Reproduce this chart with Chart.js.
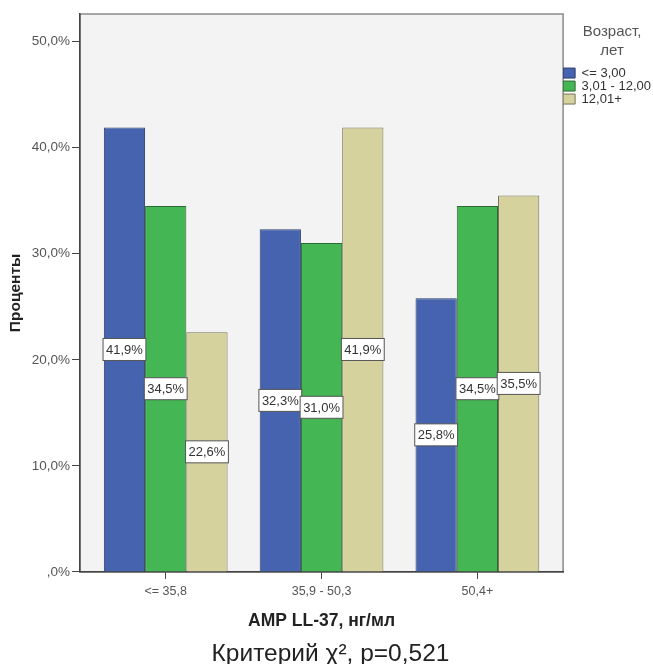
<!DOCTYPE html>
<html lang="ru">
<head>
  <meta charset="UTF-8">
  <title>AMP LL-37</title>
  <script src="https://cdn.jsdelivr.net/npm/chart.js"></script>
  <style>
    html, body { margin: 0; padding: 0; background: #fff; }
    #wrap { width: 653px; height: 664px; }
  </style>
</head>
<body>
  <div id="wrap"><canvas id="grafico"></canvas></div>

  <script>
    // Datos
    const categorias = ['<= 35,8', '35,9 - 50,3', '50,4+'];
    const edadJoven = [41.9, 32.3, 25.8];    // <= 3,00
    const edadMedia = [34.5, 31.0, 34.5];    // 3,01 - 12,00
    const edadMayor = [22.6, 41.9, 35.5];    // 12,01+
    const seriesNombres = ['<= 3,00', '3,01 - 12,00', '12,01+'];
    const ticksY = [0, 10, 20, 30, 40, 50];

    const fuente = "'Liberation Sans', Arial, sans-serif";

    // cada categoria va en x = 0, 1, 2
    const puntos = arr => arr.map((v, i) => ({ x: i, y: v }));

    // fondo gris y marco del area del grafico
    const fondoPlugin = {
      id: 'fondo',
      beforeDraw(chart) {
        const { ctx, chartArea: a } = chart;
        ctx.save();
        ctx.fillStyle = '#f3f3f3';
        ctx.fillRect(a.left, a.top, a.right - a.left, a.bottom - a.top);
        ctx.strokeStyle = '#8a8a8a';
        ctx.lineWidth = 1.5;
        ctx.strokeRect(a.left, a.top, a.right - a.left, a.bottom - a.top);
        ctx.restore();
      }
    };

    // etiquetas blancas en la mitad de cada barra
    const etiquetasPlugin = {
      id: 'etiquetas',
      afterDatasetsDraw(chart) {
        const { ctx } = chart;
        ctx.save();
        ctx.font = '13px ' + fuente;
        ctx.textAlign = 'center';
        ctx.textBaseline = 'middle';
        chart.data.datasets.forEach((ds, i) => {
          chart.getDatasetMeta(i).data.forEach((bar, j) => {
            const txt = ds.data[j].y.toFixed(1).replace('.', ',') + '%';
            const w = ctx.measureText(txt).width + 6;
            const h = 22;
            const y = (bar.y + bar.base) / 2;
            ctx.fillStyle = '#ffffff';
            ctx.fillRect(bar.x - w / 2, y - h / 2, w, h);
            ctx.strokeStyle = '#555';
            ctx.lineWidth = 1;
            ctx.strokeRect(bar.x - w / 2, y - h / 2, w, h);
            ctx.fillStyle = '#333';
            ctx.fillText(txt, bar.x, y + 1);
          });
        });
        ctx.restore();
      }
    };

    const lienzo = document.getElementById('grafico');
    new Chart(lienzo, {
      type: 'bar',
      data: {
        datasets: [
          { label: seriesNombres[0], data: puntos(edadJoven), backgroundColor: '#4563ae', borderColor: '#2c3c6a', borderWidth: 1 },
          { label: seriesNombres[1], data: puntos(edadMedia), backgroundColor: '#44b653', borderColor: '#2a6a33', borderWidth: 1 },
          { label: seriesNombres[2], data: puntos(edadMayor), backgroundColor: '#d6d29e', borderColor: '#77745a', borderWidth: 1 }
        ]
      },
      options: {
        responsive: true,
        maintainAspectRatio: false,
        animation: false,
        categoryPercentage: 0.794,
        barPercentage: 1,
        layout: { padding: { top: 14, right: -8, left: 0, bottom: 0 } },
        scales: {
          x: {
            type: 'linear',
            min: -0.55,
            max: 2.55,
            offset: false,
            afterBuildTicks(axis) {
              axis.ticks = categorias.map((c, i) => ({ value: i }));
            },
            grid: { drawOnChartArea: false, offset: false, tickLength: 7, color: '#444' },
            border: { color: '#444', width: 1.5 },
            ticks: {
              color: '#555',
              font: { family: fuente, size: 12.5 },
              padding: 5.5,
              maxRotation: 0,
              callback: v => categorias[v]
            },
            title: {
              display: true,
              text: 'AMP LL-37, нг/мл',
              color: '#222',
              font: { family: fuente, size: 17.5, weight: 'bold', lineHeight: 1.1 },
              padding: { top: 6.9, bottom: 7.9 }
            }
          },
          y: {
            min: 0,
            max: 52.6,
            afterBuildTicks(axis) {
              axis.ticks = ticksY.map(v => ({ value: v }));
            },
            afterFit(axis) {
              axis.width = 80;
            },
            grid: { drawOnChartArea: false, tickLength: 8, color: '#444' },
            border: { color: '#444', width: 1.5 },
            ticks: {
              color: '#555',
              font: { family: fuente, size: 13.5 },
              padding: 2,
              callback: v => (v === 0 ? ',0%' : v.toFixed(1).replace('.', ',') + '%')
            },
            title: {
              display: true,
              text: 'Проценты',
              color: '#222',
              font: { family: fuente, size: 15.5, weight: 'bold' },
              padding: { top: 6, bottom: 4 }
            }
          }
        },
        plugins: {
          legend: {
            position: 'right',
            align: 'start',
            labels: {
              boxWidth: 12,
              boxHeight: 10,
              padding: 0,
              color: '#333',
              font: { family: fuente, size: 13 }
            },
            title: {
              display: true,
              text: ['Возраст,', 'лет'],
              color: '#555',
              font: { family: fuente, size: 15, lineHeight: 1.25 },
              padding: { top: 10.6, bottom: 23.2 }
            }
          },
          title: {
            display: true,
            position: 'bottom',
            text: 'Критерий χ², p=0,521',
            color: '#222',
            font: { family: fuente, size: 24.5, weight: 'normal', lineHeight: 1.0 },
            padding: { top: 2.5, bottom: -2 }
          },
          tooltip: { enabled: false }
        }
      },
      plugins: [fondoPlugin, etiquetasPlugin]
    });
  </script>
</body>
</html>
